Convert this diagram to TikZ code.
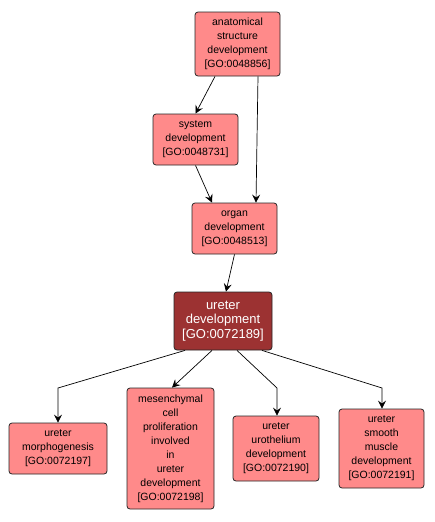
\documentclass[tikz,border=0pt]{standalone}
\usepackage{fontspec}
\setmainfont{Liberation Sans}
\usepackage{xcolor}
\usetikzlibrary{arrows.meta}
\definecolor{goFill}{HTML}{FF8A8A}
\definecolor{goHit}{HTML}{9C3232}

\begin{document}
\begin{tikzpicture}[
  x=1pt,y=-1pt,
  font=\fontsize{10.5}{14}\selectfont,
  go/.style={draw=black!85,rounded corners=3pt,fill=goFill,align=center,inner sep=1pt,line width=0.8pt},
  hit/.style={go,fill=goHit,text=white,font=\fontsize{13}{14.5}\selectfont},
  >={Stealth[length=8pt,width=8pt,inset=3pt]},
  isa/.style={->,line width=0.7pt}
]
\useasboundingbox (0,0) rectangle (435,522);
% ancestors
\node[go,minimum width=85pt,minimum height=64pt] (asd) at (237.5,44)  {anatomical\\structure\\development\\{[}GO:0048856{]}};
\node[go,minimum width=85pt,minimum height=51pt] (sys) at (195.5,139.5) {system\\development\\{[}GO:0048731{]}};
\node[go,minimum width=85pt,minimum height=51pt] (org) at (234.5,228.5) {organ\\development\\{[}GO:0048513{]}};
% the term itself
\node[hit,minimum width=98pt,minimum height=58pt] (ure) at (223,321) {ureter\\development\\{[}GO:0072189{]}};
% children
\node[go,minimum width=98pt,minimum height=51pt]  (mor) at (58,448.5)   {ureter\\morphogenesis\\{[}GO:0072197{]}};
\node[go,minimum width=87pt,minimum height=121pt] (mes) at (170.5,448.5) {mesenchymal\\cell\\proliferation\\involved\\in\\ureter\\development\\{[}GO:0072198{]}};
\node[go,minimum width=86pt,minimum height=65pt]  (uro) at (276,448.5)   {ureter\\urothelium\\development\\{[}GO:0072190{]}};
\node[go,minimum width=85pt,minimum height=79pt]  (smo) at (381.5,448.5) {ureter\\smooth\\muscle\\development\\{[}GO:0072191{]}};
% bends
\coordinate (bmor) at (58,388);
\coordinate (buro) at (277,388);
\coordinate (bsmo) at (382,388);
% is_a links
\draw[isa] ([xshift=-22.5pt]asd.south) -- (sys.north);
\draw[isa] ([xshift=20.5pt]asd.south) -- ([xshift=21.5pt]org.north);
\draw[isa] (sys.south) -- ([xshift=-22.5pt]org.north);
\draw[isa] (org.south) -- ([xshift=3pt]ure.north);
\draw[isa] ([xshift=-38pt]ure.south) -- (bmor) -- (mor.north);
\draw[isa] ([xshift=-11pt]ure.south) -- ([xshift=1.5pt]mes.north);
\draw[isa] ([xshift=14pt]ure.south) -- (buro) -- ([xshift=1pt]uro.north);
\draw[isa] ([xshift=39pt]ure.south) -- (bsmo) -- ([xshift=0.5pt]smo.north);
\end{tikzpicture}
\end{document}
